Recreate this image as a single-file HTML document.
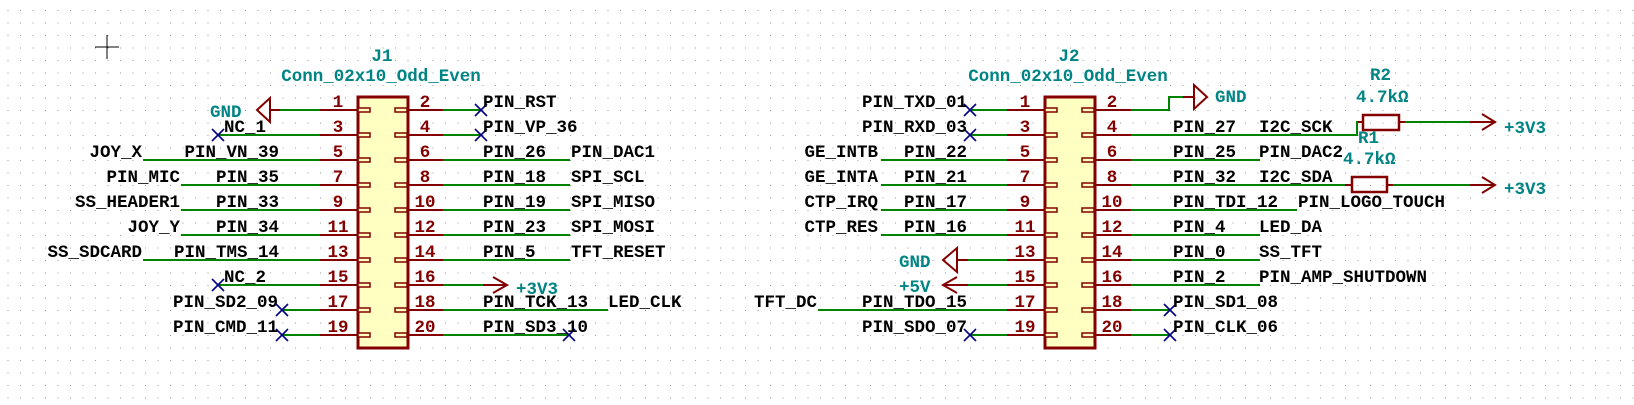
<!DOCTYPE html>
<html><head><meta charset="utf-8"><style>
html,body{margin:0;padding:0;background:#fff;}
svg{display:block;}
text{font-family:"Liberation Mono",monospace;font-size:17.5px;font-weight:bold;}
.t{fill:#000;}
.c{fill:#008484;}
.p{fill:#840000;}
.g{stroke:#008400;stroke-width:2;fill:none;}
.r{stroke:#840000;stroke-width:2;fill:none;}
.x{stroke:#000084;stroke-width:1.6;}
</style></head><body>
<svg width="1634" height="405" viewBox="0 0 1634 405" xmlns="http://www.w3.org/2000/svg">
<defs>
<pattern id="grid" x="7.5" y="10" width="12.5" height="12.5" patternUnits="userSpaceOnUse">
<rect x="0" y="0" width="1" height="1" fill="#9a9a9a"/>
</pattern>
<g id="nc"><line class="x" x1="-6" y1="-6" x2="6" y2="6"/><line class="x" x1="-6" y1="6" x2="6" y2="-6"/></g>
</defs>
<rect width="1634" height="405" fill="url(#grid)"/>
<line x1="95" y1="47" x2="119" y2="47" stroke="#000" stroke-width="1"/>
<line x1="107" y1="35" x2="107" y2="59" stroke="#000" stroke-width="1"/>

<text class="c" x="382" y="61" text-anchor="middle">J1</text>
<text class="c" x="381" y="81" text-anchor="middle">Conn_02x10_Odd_Even</text>
<rect x="358" y="97" width="50" height="251" fill="#ffffc2" stroke="#840000" stroke-width="3"/>
<g class="r">
<path d="M320 110H358M320 135H358M320 160H358M320 185H358M320 210H358M320 235H358M320 260H358M320 285H358M320 310H358M320 335H358"/>
<path d="M408 110H443M408 135H443M408 160H443M408 185H443M408 210H443M408 235H443M408 260H443M408 285H443M408 310H443M408 335H443"/>
</g>
<g fill="#ffffc2" stroke="#840000" stroke-width="1.5">
<rect x="358" y="108" width="12" height="4"/><rect x="358" y="133" width="12" height="4"/><rect x="358" y="158" width="12" height="4"/><rect x="358" y="183" width="12" height="4"/><rect x="358" y="208" width="12" height="4"/><rect x="358" y="233" width="12" height="4"/><rect x="358" y="258" width="12" height="4"/><rect x="358" y="283" width="12" height="4"/><rect x="358" y="308" width="12" height="4"/><rect x="358" y="333" width="12" height="4"/>
<rect x="395" y="108" width="12" height="4"/><rect x="395" y="133" width="12" height="4"/><rect x="395" y="158" width="12" height="4"/><rect x="395" y="183" width="12" height="4"/><rect x="395" y="208" width="12" height="4"/><rect x="395" y="233" width="12" height="4"/><rect x="395" y="258" width="12" height="4"/><rect x="395" y="283" width="12" height="4"/><rect x="395" y="308" width="12" height="4"/><rect x="395" y="333" width="12" height="4"/>
</g>
<g class="p" text-anchor="middle">
<text x="338" y="107">1</text><text x="338" y="132">3</text><text x="338" y="157">5</text><text x="338" y="182">7</text><text x="338" y="207">9</text><text x="338" y="232">11</text><text x="338" y="257">13</text><text x="338" y="282">15</text><text x="338" y="307">17</text><text x="338" y="332">19</text>
<text x="425" y="107">2</text><text x="425" y="132">4</text><text x="425" y="157">6</text><text x="425" y="182">8</text><text x="425" y="207">10</text><text x="425" y="232">12</text><text x="425" y="257">14</text><text x="425" y="282">16</text><text x="425" y="307">18</text><text x="425" y="332">20</text>
</g>
<g class="g">
<path d="M280 110H320M218 135H320M143 160H320M181 185H320M181 210H320M181 235H320M143 260H320M218 285H320M282 310H320M282 335H320"/>
</g>
<path class="r" d="M270 110H280"/>
<path d="M257 110L270 98V122Z" fill="none" stroke="#840000" stroke-width="2"/>
<text class="c" x="210" y="117">GND</text>
<use href="#nc" x="218" y="135"/><use href="#nc" x="218" y="285"/><use href="#nc" x="282" y="310"/><use href="#nc" x="282" y="335"/>
<g class="t" text-anchor="end">
<text x="266" y="132">NC_1</text>
<text x="279" y="157">PIN_VN_39</text><text x="142" y="157">JOY_X</text>
<text x="279" y="182">PIN_35</text><text x="180" y="182">PIN_MIC</text>
<text x="279" y="207">PIN_33</text><text x="180" y="207">SS_HEADER1</text>
<text x="279" y="232">PIN_34</text><text x="180" y="232">JOY_Y</text>
<text x="279" y="257">PIN_TMS_14</text><text x="142" y="257">SS_SDCARD</text>
<text x="266" y="282">NC_2</text>
<text x="278" y="307">PIN_SD2_09</text>
<text x="278" y="332">PIN_CMD_11</text>
</g>
<g class="g">
<path d="M443 110H481M443 135H481M443 160H570M443 185H570M443 210H570M443 235H570M443 260H570M443 285H483M443 310H608M443 335H569"/>
</g>
<path class="r" d="M483 285H507M493 277L507 285L493 293"/>
<text class="c" x="516" y="294">+3V3</text>
<use href="#nc" x="481" y="110"/><use href="#nc" x="481" y="135"/><use href="#nc" x="569" y="335"/>
<g class="t">
<text x="483" y="107">PIN_RST</text>
<text x="483" y="132">PIN_VP_36</text>
<text x="483" y="157">PIN_26</text><text x="571" y="157">PIN_DAC1</text>
<text x="483" y="182">PIN_18</text><text x="571" y="182">SPI_SCL</text>
<text x="483" y="207">PIN_19</text><text x="571" y="207">SPI_MISO</text>
<text x="483" y="232">PIN_23</text><text x="571" y="232">SPI_MOSI</text>
<text x="483" y="257">PIN_5</text><text x="571" y="257">TFT_RESET</text>
<text x="483" y="307">PIN_TCK_13</text><text x="608" y="307">LED_CLK</text>
<text x="483" y="332">PIN_SD3_10</text>
</g>

<text class="c" x="1069" y="61" text-anchor="middle">J2</text>
<text class="c" x="1068" y="81" text-anchor="middle">Conn_02x10_Odd_Even</text>
<rect x="1045" y="97" width="50" height="251" fill="#ffffc2" stroke="#840000" stroke-width="3"/>
<g class="r">
<path d="M1007 110H1045M1007 135H1045M1007 160H1045M1007 185H1045M1007 210H1045M1007 235H1045M1007 260H1045M1007 285H1045M1007 310H1045M1007 335H1045"/>
<path d="M1095 110H1131M1095 135H1131M1095 160H1131M1095 185H1131M1095 210H1131M1095 235H1131M1095 260H1131M1095 285H1131M1095 310H1131M1095 335H1131"/>
</g>
<g fill="#ffffc2" stroke="#840000" stroke-width="1.5">
<rect x="1045" y="108" width="12" height="4"/><rect x="1045" y="133" width="12" height="4"/><rect x="1045" y="158" width="12" height="4"/><rect x="1045" y="183" width="12" height="4"/><rect x="1045" y="208" width="12" height="4"/><rect x="1045" y="233" width="12" height="4"/><rect x="1045" y="258" width="12" height="4"/><rect x="1045" y="283" width="12" height="4"/><rect x="1045" y="308" width="12" height="4"/><rect x="1045" y="333" width="12" height="4"/>
<rect x="1082" y="108" width="12" height="4"/><rect x="1082" y="133" width="12" height="4"/><rect x="1082" y="158" width="12" height="4"/><rect x="1082" y="183" width="12" height="4"/><rect x="1082" y="208" width="12" height="4"/><rect x="1082" y="233" width="12" height="4"/><rect x="1082" y="258" width="12" height="4"/><rect x="1082" y="283" width="12" height="4"/><rect x="1082" y="308" width="12" height="4"/><rect x="1082" y="333" width="12" height="4"/>
</g>
<g class="p" text-anchor="middle">
<text x="1025" y="107">1</text><text x="1025" y="132">3</text><text x="1025" y="157">5</text><text x="1025" y="182">7</text><text x="1025" y="207">9</text><text x="1025" y="232">11</text><text x="1025" y="257">13</text><text x="1025" y="282">15</text><text x="1025" y="307">17</text><text x="1025" y="332">19</text>
<text x="1112" y="107">2</text><text x="1112" y="132">4</text><text x="1112" y="157">6</text><text x="1112" y="182">8</text><text x="1112" y="207">10</text><text x="1112" y="232">12</text><text x="1112" y="257">14</text><text x="1112" y="282">16</text><text x="1112" y="307">18</text><text x="1112" y="332">20</text>
</g>
<g class="g">
<path d="M970 110H1007M970 135H1007M881 160H1007M881 185H1007M881 210H1007M881 235H1007M968 260H1007M968 285H1007M818 310H1007M970 335H1007"/>
</g>
<path class="r" d="M957 260H968M943 285H968M957 277L943 285L957 293"/>
<path d="M943 260L957 248V272Z" fill="none" stroke="#840000" stroke-width="2"/>
<text class="c" x="899" y="267">GND</text>
<text class="c" x="899" y="292">+5V</text>
<use href="#nc" x="970" y="110"/><use href="#nc" x="970" y="135"/><use href="#nc" x="970" y="335"/>
<g class="t" text-anchor="end">
<text x="967" y="107">PIN_TXD_01</text>
<text x="967" y="132">PIN_RXD_03</text>
<text x="967" y="157">PIN_22</text><text x="878" y="157">GE_INTB</text>
<text x="967" y="182">PIN_21</text><text x="878" y="182">GE_INTA</text>
<text x="967" y="207">PIN_17</text><text x="878" y="207">CTP_IRQ</text>
<text x="967" y="232">PIN_16</text><text x="878" y="232">CTP_RES</text>
<text x="967" y="307">PIN_TDO_15</text><text x="817" y="307">TFT_DC</text>
<text x="967" y="332">PIN_SDO_07</text>
</g>
<g class="g">
<path d="M1131 110H1169V97H1183"/>
<path d="M1131 135H1357V122H1360"/>
<path d="M1131 160H1260M1131 185H1345M1131 210H1297M1131 235H1260M1131 260H1260M1131 285H1260M1131 310H1170M1131 335H1170"/>
<path d="M1405 122H1470M1393 185H1470"/>
</g>
<path class="r" d="M1183 97H1194"/>
<path d="M1207 97L1194 85V109Z" fill="none" stroke="#840000" stroke-width="2"/>
<text class="c" x="1215" y="102">GND</text>
<path class="r" d="M1358 122H1363M1399 122H1405M1470 122H1495M1482 114L1495 122L1482 130"/>
<rect x="1363" y="115" width="36" height="15" fill="none" stroke="#840000" stroke-width="2.5"/>
<text class="c" x="1370" y="80">R2</text>
<text class="c" x="1356" y="102">4.7kΩ</text>
<text class="c" x="1504" y="133">+3V3</text>
<path class="r" d="M1345 185H1352M1387 185H1393M1470 185H1495M1482 177L1495 185L1482 193"/>
<rect x="1352" y="177" width="35" height="15" fill="none" stroke="#840000" stroke-width="2.5"/>
<text class="c" x="1358" y="143">R1</text>
<text class="c" x="1343" y="164">4.7kΩ</text>
<text class="c" x="1504" y="194">+3V3</text>
<use href="#nc" x="1170" y="310"/><use href="#nc" x="1170" y="335"/>
<g class="t">
<text x="1173" y="132">PIN_27</text><text x="1259" y="132">I2C_SCK</text>
<text x="1173" y="157">PIN_25</text><text x="1259" y="157">PIN_DAC2</text>
<text x="1173" y="182">PIN_32</text><text x="1259" y="182">I2C_SDA</text>
<text x="1173" y="207">PIN_TDI_12</text><text x="1298" y="207">PIN_LOGO_TOUCH</text>
<text x="1173" y="232">PIN_4</text><text x="1259" y="232">LED_DA</text>
<text x="1173" y="257">PIN_0</text><text x="1259" y="257">SS_TFT</text>
<text x="1173" y="282">PIN_2</text><text x="1259" y="282">PIN_AMP_SHUTDOWN</text>
<text x="1173" y="307">PIN_SD1_08</text>
<text x="1173" y="332">PIN_CLK_06</text>
</g>
</svg>
</body></html>
